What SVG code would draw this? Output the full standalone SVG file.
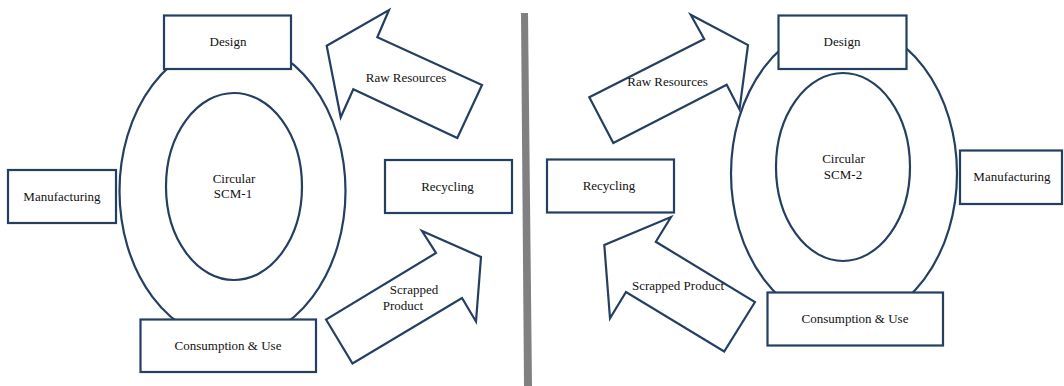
<svg xmlns="http://www.w3.org/2000/svg" width="1064" height="386" viewBox="0 0 1064 386">
<style>
.s{fill:#ffffff;stroke:#243f60;stroke-width:2.2}
.t{font-family:"Liberation Serif","Times New Roman",serif;font-size:13px;fill:#111111;text-anchor:middle}
</style>
<rect width="1064" height="386" fill="#ffffff"/>
<polygon points="521,13 528,13 532,386 524,386" fill="#808080"/>

<g id="cycle-1">
  <ellipse class="s" cx="232.5" cy="191" rx="113" ry="150"/>
  <ellipse class="s" cx="234" cy="186.5" rx="68" ry="93.5"/>
  <text class="t" x="234" y="183">Circular</text>
  <text class="t" x="233" y="198">SCM-1</text>
</g>
<g id="design-1">
  <rect class="s" x="164" y="15.5" width="127" height="53.5"/>
  <text class="t" x="228" y="46">Design</text>
</g>
<g id="manufacturing-1">
  <rect class="s" x="8" y="170" width="108" height="53"/>
  <text class="t" x="62" y="201">Manufacturing</text>
</g>
<g id="consumption-1">
  <rect class="s" x="140.5" y="319.5" width="175.5" height="52.5"/>
  <text class="t" x="228" y="350">Consumption &amp; Use</text>
</g>
<g id="recycling-1">
  <rect class="s" x="385" y="160" width="127" height="53"/>
  <text class="t" x="447.5" y="190.5">Recycling</text>
</g>

<g id="cycle-2">
  <ellipse class="s" cx="844" cy="173.5" rx="113" ry="150"/>
  <ellipse class="s" cx="843" cy="167" rx="67" ry="94"/>
  <text class="t" x="843.5" y="163">Circular</text>
  <text class="t" x="843" y="179">SCM-2</text>
</g>
<g id="design-2">
  <rect class="s" x="778.5" y="15.5" width="128" height="53.5"/>
  <text class="t" x="842" y="46">Design</text>
</g>
<g id="manufacturing-2">
  <rect class="s" x="960" y="150.5" width="102" height="53.5"/>
  <text class="t" x="1012" y="180.5">Manufacturing</text>
</g>
<g id="consumption-2">
  <rect class="s" x="767.5" y="292.5" width="175.5" height="53"/>
  <text class="t" x="855" y="323">Consumption &amp; Use</text>
</g>
<g id="recycling-2">
  <rect class="s" x="547" y="159.5" width="127" height="53"/>
  <text class="t" x="609" y="189.5">Recycling</text>
</g>

<g id="connectors">
  <g id="raw-resources-1">
    <polygon class="s" points="326.7,45.7 389,10 377.3,37.3 482,85 457.3,138 353.3,89.3 340.7,117.3"/>
    <text class="t" x="406" y="82">Raw Resources</text>
  </g>
  <g id="scrapped-product-1">
    <polygon class="s" points="326,319.5 352.5,363.5 462,298 476,321.5 481,257 422,231 436,253"/>
    <text class="t" x="414" y="294">Scrapped</text>
    <text class="t" x="403" y="310">Product</text>
  </g>
  <g id="raw-resources-2">
    <polygon class="s" points="589.3,97.3 613.3,143 726.7,84.7 739.5,109.5 748,45 690.7,14.7 704.2,39"/>
    <text class="t" x="667.5" y="86">Raw Resources</text>
  </g>
  <g id="scrapped-product-2">
    <polygon class="s" points="755,302 724.2,351.5 626,292 610,318.3 604.3,245 671,217 655.8,241.8"/>
    <text class="t" x="678" y="289.5">Scrapped Product</text>
  </g>
</g>
</svg>
